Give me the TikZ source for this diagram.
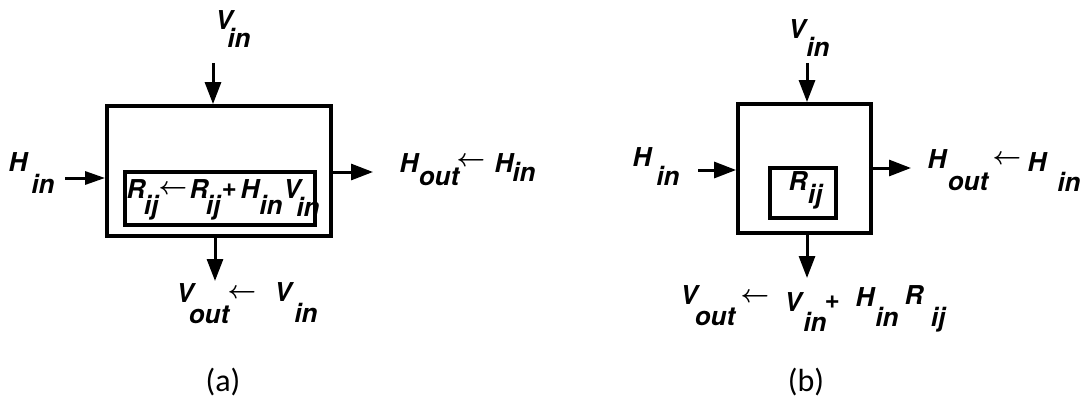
\documentclass[tikz,border=0pt]{standalone}
\usepackage{fontspec}
\setmainfont{TeX Gyre Heros}
\newfontfamily\capfont{Carlito}
\usetikzlibrary{arrows.meta}

\begin{document}
\begin{tikzpicture}[x=1pt, y=-1pt,
    lbl/.style={inner sep=0pt, font=\fontsize{26}{26}\selectfont\bfseries\itshape},
    larr/.style={inner sep=0pt, font=\fontsize{23}{23}\selectfont\boldmath},
    cell/.style={draw, line width=3.8pt, inner sep=0pt},
    arr/.style={line width=3pt, -{Triangle[length=22pt,width=16pt]}},
    caption/.style={inner sep=0pt, font=\capfont\fontsize{32}{32}\selectfont}]

    \useasboundingbox (0,0) rectangle (1083,401);

    % ---- (a) ----
    % Boxes
    \node[cell, minimum width=224pt, minimum height=130pt] (boxA) at (219,171) {};
    \node[cell, line width=3.4pt, minimum width=190pt, minimum height=53pt] (regA) at (220,198.5) {};

    % Arrow ends
    \coordinate (topA) at (213,63);
    \coordinate (leftA) at (65,178);
    \coordinate (rightA) at (373,172);
    \coordinate (botA) at (215,281);

    \draw[arr] (topA) -- (topA |- boxA.north);
    \draw[arr, -{Triangle[length=20pt,width=13pt]}] (leftA) -- (leftA -| boxA.west);
    \draw[arr] (boxA.east |- rightA) -- (rightA);
    \draw[arr] (botA |- boxA.south) -- (botA);

    % Inputs
    \node[lbl] (vinA) at (224,20) {V};
    \node[lbl] (vinAs) at (239,38) {in};
    \node[lbl] (hinA) at (18,162) {H};
    \node[lbl] (hinAs) at (43,184) {in};

    % Update inside the register
    \node[lbl] (rA) at (136,189) {R};
    \node[lbl] (rAs) at (151,208) {ij};
    \node[larr] (setA) at (173,190) {$\leftarrow$};
    \node[lbl] (rA2) at (199,189) {R};
    \node[lbl] (rA2s) at (213,208) {ij};
    \node[lbl] (plusA) at (229,190) {+};
    \node[lbl] (hA) at (250,189) {H};
    \node[lbl] (hAs) at (271,205) {in};
    \node[lbl] (vA) at (292,189) {V};
    \node[lbl] (vAs) at (308,207) {in};

    % Outputs
    \node[lbl] (houtA) at (409,163) {H};
    \node[lbl] (houtAs) at (439,177) {out};
    \node[larr] (setA2) at (471,162) {$\leftarrow$};
    \node[lbl] (hinA2) at (504,163) {H};
    \node[lbl] (hinA2s) at (524,172) {in};

    \node[lbl] (voutA) at (185,293) {V};
    \node[lbl] (voutAs) at (209,315) {out};
    \node[larr] (setA3) at (242,294) {$\leftarrow$};
    \node[lbl] (vinA2) at (283,292) {V};
    \node[lbl] (vinA2s) at (306,313) {in};

    \node[caption] (capA) at (223,382) {(a)};

    % ---- (b) ----
    \node[cell, minimum width=133pt, minimum height=129pt] (boxB) at (804.5,168.5) {};
    \node[cell, line width=3.4pt, minimum width=66pt, minimum height=50pt] (regB) at (803,193) {};

    \coordinate (topB) at (807,63);
    \coordinate (leftB) at (698,170);
    \coordinate (rightB) at (911,168);
    \coordinate (botB) at (807,278);

    \draw[arr] (topB) -- (topB |- boxB.north);
    \draw[arr] (leftB) -- (leftB -| boxB.west);
    \draw[arr] (boxB.east |- rightB) -- (rightB);
    \draw[arr] (botB |- boxB.south) -- (botB);

    \node[lbl] (vinB) at (797,29) {V};
    \node[lbl] (vinBs) at (818,47) {in};
    \node[lbl] (hinB) at (642,157) {H};
    \node[lbl] (hinBs) at (668,176) {in};

    % Register
    \node[lbl] (rB) at (798,181) {R};
    \node[lbl] (rBs) at (815,197) {ij};

    \node[lbl] (houtB) at (937,159) {H};
    \node[lbl] (houtBs) at (968,182) {out};
    \node[larr] (setB) at (1007,160) {$\leftarrow$};
    \node[lbl] (hinB2) at (1037,162) {H};
    \node[lbl] (hinB2s) at (1069,182) {in};

    \node[lbl] (voutB) at (689,295) {V};
    \node[lbl] (voutBs) at (715,317) {out};
    \node[larr] (setB2) at (755,298) {$\leftarrow$};
    \node[lbl] (vinB2) at (793,302) {V};
    \node[lbl] (vinB2s) at (815,322) {in};
    \node[lbl] (plusB) at (832,302) {+};
    \node[lbl] (hB) at (865,297) {H};
    \node[lbl] (hBs) at (887,317) {in};
    \node[lbl] (rB2) at (914,295) {R};
    \node[lbl] (rB2s) at (938,320) {ij};

    \node[caption] (capB) at (806,382) {(b)};

\end{tikzpicture}
\end{document}
